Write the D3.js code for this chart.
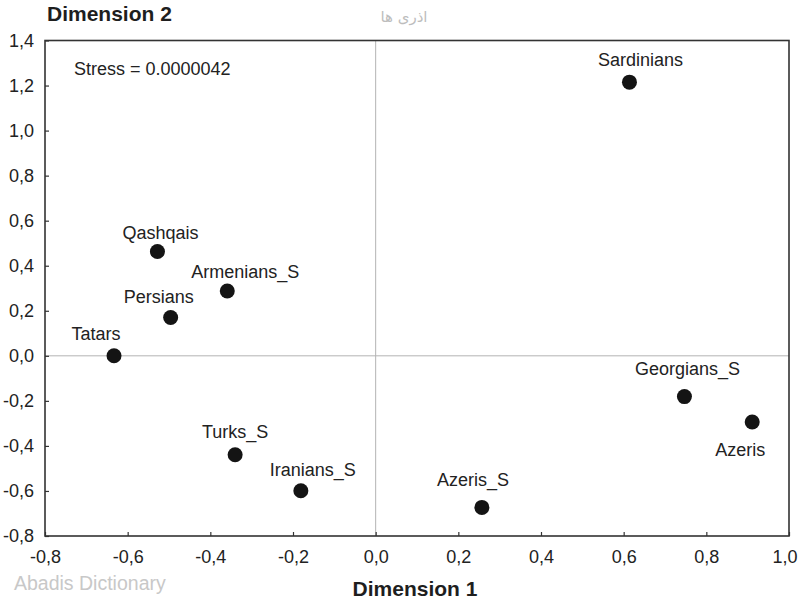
<!DOCTYPE html>
<html>
<head>
<meta charset="utf-8">
<script src="https://cdn.jsdelivr.net/npm/d3@7"></script>
<style>
  html, body { margin: 0; padding: 0; background: #fff; }
  svg { display: block; font-family: "Liberation Sans", Arial, sans-serif; }
</style>
</head>
<body>
<svg id="chart" width="800" height="601"></svg>
<script>
// ---- data ----
const groups = ["Sardinians", "Qashqais", "Armenians_S", "Persians", "Tatars",
                "Georgians_S", "Azeris", "Turks_S", "Iranians_S", "Azeris_S"];
const dim1 = [0.614, -0.528, -0.359, -0.496, -0.633, 0.747, 0.911, -0.340, -0.181, 0.257];
const dim2 = [1.215, 0.463, 0.288, 0.170, 0.000, -0.181, -0.294, -0.439, -0.599, -0.673];
const xTicks = [-0.8, -0.6, -0.4, -0.2, 0.0, 0.2, 0.4, 0.6, 0.8, 1.0];
const yTicks = [-0.8, -0.6, -0.4, -0.2, 0.0, 0.2, 0.4, 0.6, 0.8, 1.0, 1.2, 1.4];
const stressText = "Stress = 0.0000042";

// ---- layout (label placement relative to each point, in px) ----
const labelOffsets = [[11, -16], [3, -13], [18, -13], [-12, -15], [-18, -16],
                      [3, -22], [-12, 34], [0, -17], [12, -15], [-9, -21]];

const svg = d3.select("#chart");
const L = 45, R = 789, T = 40.5, B = 536;

const x = d3.scaleLinear().domain([-0.8, 1.0]).range([L, R]);
const y = d3.scaleLinear().domain([-0.8, 1.4]).range([B, T]);
const fmt = d => d3.format(".1f")(d).replace(".", ",").replace("−", "-");

// zero reference lines
svg.append("line").attr("x1", x(0)).attr("x2", x(0)).attr("y1", T).attr("y2", B)
  .attr("stroke", "#b4b4b4").attr("stroke-width", 1);
svg.append("line").attr("x1", L).attr("x2", R).attr("y1", y(0)).attr("y2", y(0))
  .attr("stroke", "#b4b4b4").attr("stroke-width", 1);

// axes (ticks inward)
const xAxis = svg.append("g").attr("transform", `translate(0,${B})`)
  .call(d3.axisBottom(x).tickValues(xTicks).tickSizeInner(-4).tickSizeOuter(0).tickPadding(14).tickFormat(fmt));
const yAxis = svg.append("g").attr("transform", `translate(${L},0)`)
  .call(d3.axisLeft(y).tickValues(yTicks).tickSizeInner(-4).tickSizeOuter(0).tickPadding(11).tickFormat(fmt));
[xAxis, yAxis].forEach(g => {
  g.select(".domain").remove();
  g.selectAll(".tick line").attr("stroke", "#333").attr("stroke-width", 1.2);
  g.selectAll(".tick text").attr("fill", "#222").style("font-size", "18px")
    .style("font-family", "'Liberation Sans', Arial, sans-serif");
});
xAxis.selectAll(".tick text").attr("dy", "0.71em");
// last x label sits flush against the right edge in the reference
xAxis.selectAll(".tick").filter(d => d === 1.0).select("text")
  .attr("text-anchor", "end").attr("x", 8);

// frame
svg.append("rect").attr("x", L).attr("y", T).attr("width", R - L).attr("height", B - T)
  .attr("fill", "none").attr("stroke", "#333").attr("stroke-width", 1.6);

// points
const pts = groups.map((g, i) => ({ name: g, d1: dim1[i], d2: dim2[i], off: labelOffsets[i] }));
svg.append("g").selectAll("circle").data(pts).join("circle")
  .attr("cx", d => x(d.d1)).attr("cy", d => y(d.d2)).attr("r", 7.5).attr("fill", "#141414");
svg.append("g").selectAll("text").data(pts).join("text")
  .attr("x", d => x(d.d1) + d.off[0]).attr("y", d => y(d.d2) + d.off[1])
  .attr("text-anchor", "middle").attr("fill", "#222").style("font-size", "18px")
  .text(d => d.name);

// stress annotation
svg.append("text").attr("x", 74).attr("y", 75).attr("fill", "#222")
  .style("font-size", "18px").text(stressText);

// axis titles
svg.append("text").attr("x", 47).attr("y", 21).attr("fill", "#1e1e1e")
  .style("font-size", "21px").style("font-weight", "bold").text("Dimension 2");
svg.append("text").attr("x", 415).attr("y", 596).attr("text-anchor", "middle").attr("fill", "#1e1e1e")
  .style("font-size", "21px").style("font-weight", "bold").text("Dimension 1");

// watermarks
svg.append("text").attr("x", 404).attr("y", 22).attr("text-anchor", "middle").attr("fill", "#bdbdbd")
  .style("font-size", "15px").style("font-family", "'DejaVu Sans', sans-serif").text("اذری ها");
svg.append("text").attr("x", 14).attr("y", 590).attr("fill", "#c8c8c8")
  .style("font-size", "19.5px").text("Abadis Dictionary");
</script>
</body>
</html>
